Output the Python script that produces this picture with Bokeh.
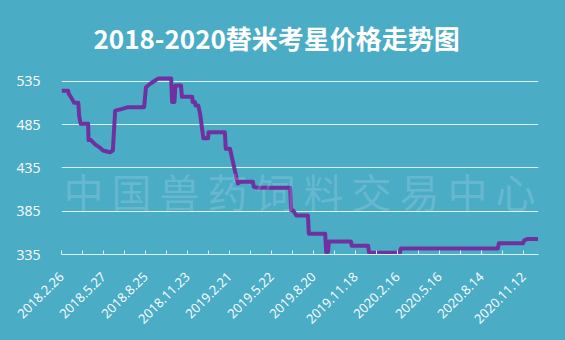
import math
from datetime import datetime

from bokeh.plotting import figure
from bokeh.models import FixedTicker, Range1d, Label
from bokeh.embed import file_html
from bokeh.resources import INLINE

# ---- data ----
dates = [
    "2018-02-26", "2018-03-12", "2018-03-14", "2018-03-20", "2018-03-25",
    "2018-04-03", "2018-04-05", "2018-04-08", "2018-04-24", "2018-04-25",
    "2018-04-30", "2018-05-09", "2018-05-20", "2018-05-26", "2018-06-10",
    "2018-06-16", "2018-06-21", "2018-07-06", "2018-07-19", "2018-08-22",
    "2018-08-26", "2018-09-04", "2018-09-21", "2018-10-19", "2018-10-21",
    "2018-10-26", "2018-10-28", "2018-11-09", "2018-11-11", "2018-12-03",
    "2018-12-04", "2018-12-09", "2018-12-10", "2018-12-16", "2018-12-20",
    "2018-12-27", "2019-01-06", "2019-01-07", "2019-02-11", "2019-02-13",
    "2019-02-22", "2019-03-09", "2019-03-11", "2019-03-16", "2019-04-12",
    "2019-04-14", "2019-04-23", "2019-07-01", "2019-07-03", "2019-07-07",
    "2019-07-14", "2019-08-08", "2019-08-10", "2019-09-14", "2019-09-16",
    "2019-09-20", "2019-09-22", "2019-11-08", "2019-11-10", "2019-12-15",
    "2019-12-17", "2020-02-21", "2020-02-23", "2020-09-18", "2020-09-20",
    "2020-11-11", "2020-11-13", "2020-11-20", "2020-12-13",
]
prices = [
    524, 524, 520, 515, 510,
    510, 494, 486, 486, 467,
    467, 462, 458, 455, 453,
    455, 501, 503, 505, 505,
    528, 532, 538, 538, 511,
    511, 530, 530, 517, 517,
    511, 511, 507, 507, 497,
    469, 469, 476, 476, 457,
    457, 421, 417, 419, 419,
    413, 412, 412, 386, 386,
    380, 380, 359, 359, 338,
    338, 350, 350, 345, 345,
    337, 337, 342, 342, 348,
    348, 351, 353, 353,
]
tick_labels = [
    "2018.2.26", "2018.5.27", "2018.8.25", "2018.11.23", "2019.2.21",
    "2019.5.22", "2019.8.20", "2019.11.18", "2020.2.16", "2020.5.16",
    "2020.8.14", "2020.11.12",
]
y_ticks = [335, 385, 435, 485, 535]
title_text = "2018-2020替米考星价格走势图"
watermark_text = "中国兽药饲料交易中心"

# ---- derived positions (days since first date) ----
start = datetime.strptime(dates[0], "%Y-%m-%d")
x_days = [(datetime.strptime(d, "%Y-%m-%d") - start).days for d in dates]
label_days = [(datetime.strptime(t, "%Y.%m.%d") - start).days for t in tick_labels]
mid_days = [(a + b) / 2 for a, b in zip(label_days[:-1], label_days[1:])]

BG = "#4BACC6"
GRID = "#dcf0f5"

p = figure(
    width=565, height=340,
    output_backend="svg", toolbar_location=None,
    x_range=Range1d(0, 1022), y_range=Range1d(335, 545),
    min_border_left=61, min_border_right=27,
    min_border_top=72, min_border_bottom=86,
    background_fill_color=BG, border_fill_color=BG,
    outline_line_color=None,
)
p.styles = {"background-color": BG}

# title
p.title.text = title_text
p.title.text_font = "Noto Sans CJK SC"
p.title.text_font_size = "26px"
p.title.text_font_style = "bold"
p.title.text_color = "white"
p.title.align = "left"
p.title.offset = 32
p.title.standoff = 33

# watermark
wm = Label(
    x=510, y=408, text="\u2009".join(watermark_text),
    text_align="center", text_baseline="middle",
    text_font="Noto Sans CJK SC", text_font_size="40px",
    text_color="white", text_alpha=0.16,
)
p.add_layout(wm)

# grid
p.xgrid.visible = False
p.ygrid.ticker = FixedTicker(ticks=y_ticks)
p.ygrid.grid_line_color = GRID
p.ygrid.grid_line_width = 1

# y axis
p.yaxis.ticker = FixedTicker(ticks=y_ticks)
p.yaxis.axis_line_color = None
p.yaxis.major_tick_line_color = None
p.yaxis.minor_tick_line_color = None
p.yaxis.major_label_standoff = 15
p.yaxis.major_label_text_color = "white"
p.yaxis.major_label_text_font = "Open Sans"
p.yaxis.major_label_text_font_size = "14px"

# x axis
p.xaxis.ticker = FixedTicker(ticks=label_days, minor_ticks=mid_days)
p.xaxis.major_label_overrides = {d: t for d, t in zip(label_days, tick_labels)}
p.xaxis.axis_line_color = GRID
p.xaxis.major_tick_line_color = GRID
p.xaxis.minor_tick_line_color = GRID
p.xaxis.major_tick_in = 4
p.xaxis.major_tick_out = 0
p.xaxis.minor_tick_in = 4
p.xaxis.minor_tick_out = 0
p.xaxis.major_label_orientation = math.pi / 4
p.xaxis.major_label_standoff = 20
p.xaxis.major_label_text_color = "white"
p.xaxis.major_label_text_font = "Open Sans"
p.xaxis.major_label_text_font_size = "13px"

# price line
p.line(x_days, prices, line_color="#7030A0", line_width=4, line_join="round")

open("out.html", "w").write(file_html(p, INLINE))
